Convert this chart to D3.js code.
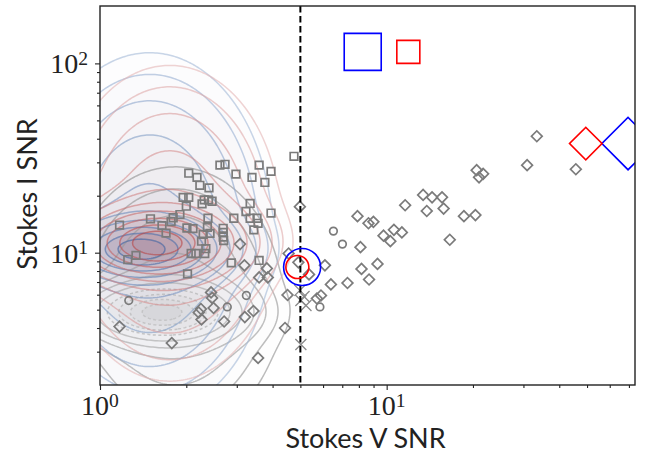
<!DOCTYPE html>
<html>
<head>
<meta charset="utf-8">
<script src="https://cdn.jsdelivr.net/npm/d3@7"></script>
<style>
  html, body { margin: 0; padding: 0; background: #fff; }
  svg { display: block; }
</style>
</head>
<body>
<svg id="chart" width="651" height="455"></svg>
<script>
// ---- Axis ranges and ticks -------------------------------------------------
const xDomain = [1, 73.5];
const yDomain = [2, 201];
const xMajor = [1, 10];
const xExponents = ["0", "1"];
const xMinor = [2, 3, 4, 5, 6, 7, 8, 9, 20, 30, 40, 50, 60, 70];
const yMajor = [10, 100];
const yExponents = ["1", "2"];
const yMinor = [3, 4, 5, 6, 7, 8, 9, 20, 30, 40, 50, 60, 70, 80, 90];
const xLabel = "Stokes V SNR";
const yLabel = "Stokes I SNR";
const vThreshold = 5;

// ---- Sources: [Stokes V SNR, Stokes I SNR] ---------------------------------
const squarePoints = [
  [4.75, 32.3], [2.62, 29.0], [2.73, 29.3], [3.59, 29.0], [2.04, 26.3], [2.18, 25.0],
  [2.98, 26.0], [3.39, 25.0], [3.95, 26.9], [3.76, 23.5], [2.23, 22.7], [2.40, 22.0],
  [1.95, 19.6], [2.04, 19.6], [2.27, 18.1], [2.31, 19.0], [2.39, 19.0], [2.46, 18.7],
  [2.00, 17.6], [3.34, 18.2], [3.23, 16.5], [3.95, 16.2], [1.90, 15.9], [1.80, 15.3],
  [1.77, 14.6], [1.50, 15.1], [1.645, 13.9], [1.70, 12.7], [1.17, 14.0], [2.01, 13.5],
  [2.11, 13.4], [2.38, 15.2], [2.93, 15.2], [3.34, 15.2], [3.53, 15.2], [3.44, 13.2],
  [2.69, 13.45], [2.69, 12.8], [2.69, 12.1], [2.70, 11.6], [2.37, 13.6], [2.29, 12.5],
  [2.42, 12.65], [2.26, 11.5], [2.34, 10.5], [2.08, 9.9], [2.16, 9.9], [2.02, 7.73],
  [2.87, 8.83], [3.59, 9.1], [1.335, 9.68], [1.25, 9.2], [3.56, 14.3], [2.32, 9.9]
];
const circlePoints = [
  [1.26, 5.59], [2.78, 5.17], [3.24, 5.94], [6.52, 13.0], [7.01, 11.1], [5.85, 5.17]
];
const diamondPoints = [
  [33.4, 41.2], [30.9, 29.0], [45.7, 27.6], [20.6, 27.3], [21.7, 26.1], [21.0, 25.0],
  [13.4, 20.2], [14.4, 19.6], [15.6, 19.6], [11.6, 17.8], [13.8, 16.6], [15.8, 17.1],
  [18.6, 15.6], [20.4, 15.8], [7.91, 15.6], [8.64, 14.3], [8.99, 14.55], [10.6, 13.2],
  [11.3, 12.8], [9.75, 12.3], [10.3, 11.5], [16.6, 11.7], [8.10, 10.7], [6.09, 8.57],
  [8.17, 8.21], [9.29, 8.72], [8.68, 7.22], [7.30, 6.92], [6.39, 6.80], [5.90, 5.94],
  [5.71, 5.73], [4.98, 17.5], [4.55, 9.9], [4.92, 8.89], [4.51, 5.98], [4.42, 4.00],
  [3.56, 2.78], [1.78, 3.33], [1.17, 4.07], [2.44, 6.17], [2.46, 5.77], [2.49, 5.10],
  [2.21, 4.83], [2.25, 5.04], [2.26, 4.44], [2.71, 4.33], [3.20, 4.57], [3.43, 4.92],
  [3.59, 7.40], [3.85, 7.40], [3.08, 11.1], [3.19, 8.57], [3.82, 8.26], [5.36, 7.68]
];
const crossPoints = [
  [4.98, 6.32], [5.15, 5.87], [5.02, 5.59], [5.23, 5.26], [5.02, 3.27]
];

// Highlighted objects (blue = large marker, red = small marker)
const blueSquare = [8.25, 115];
const redSquare = [11.9, 115];
const blueCircle = [5.07, 8.4];
const redCircle = [4.88, 8.4];
const blueDiamond = [69.5, 37.7];
const redDiamond = [49.5, 37.7];

// ---- Population density models (Gaussian kernels in log10 space) -----------
// centre in SNR units, widths in dex, w = relative weight; the first kernel is the core
const blueKernels = [
  { v: 1.38, i: 10.4, sv: 0.157, si: 0.095, w: 1.0 },
  { v: 1.49, i: 12.6, sv: 0.21, si: 0.47, w: 0.3 }
];
const redKernels = [
  { v: 1.556, i: 11.2, sv: 0.174, si: 0.116, w: 1.0 },
  { v: 1.75, i: 14.3, sv: 0.227, si: 0.49, w: 0.3 }
];
const greyKernels = [
  { v: 1.62, i: 4.83, sv: 0.157, si: 0.09, w: 1.0 },
  { v: 1.83, i: 5.6, sv: 0.227, si: 0.43, w: 0.3 }
];
// Stokes V SNR at which each contour level crosses the row through the core
const blueLevelCrossings = [1.686, 1.871, 2.077, 2.305, 2.559, 2.841, 3.154, 3.501, 3.855, 4.211];
const redLevelCrossings = [1.932, 2.145, 2.381, 2.643, 2.934, 3.257, 3.615, 3.981, 4.348, 4.712];
const greyLevelCrossings = [1.932, 2.128, 2.343, 2.58, 2.841, 3.129, 3.444, 3.794, 4.178, 4.6];

// ---- Layout ----------------------------------------------------------------
const plot = { left: 100, right: 635, top: 6, bottom: 385 };
const svg = d3.select("#chart");

const x = d3.scaleLog().domain(xDomain).range([plot.left, plot.right]);
const y = d3.scaleLog().domain(yDomain).range([plot.bottom, plot.top]);

svg.append("defs").append("clipPath").attr("id", "plot-clip")
  .append("rect")
  .attr("x", plot.left).attr("y", plot.top)
  .attr("width", plot.right - plot.left).attr("height", plot.bottom - plot.top);

const body = svg.append("g").attr("clip-path", "url(#plot-clip)");

// ---- Density contours ------------------------------------------------------
const step = 2, pad = 24;
const gx0 = plot.left - pad, gy0 = plot.top - pad;
const nx = Math.ceil((plot.right - plot.left + 2 * pad) / step) + 1;
const ny = Math.ceil((plot.bottom - plot.top + 2 * pad) / step) + 1;

function densityAt(kernels, lv, li) {
  let s = 0;
  for (const k of kernels) {
    const du = (lv - Math.log10(k.v)) / k.sv;
    const dv = (li - Math.log10(k.i)) / k.si;
    s += k.w * Math.exp(-0.5 * (du * du + dv * dv));
  }
  return s;
}

function densityGrid(kernels) {
  const values = new Float64Array(nx * ny);
  for (let j = 0; j < ny; j++) {
    const li = Math.log10(y.invert(gy0 + (j + 0.5) * step));
    for (let i = 0; i < nx; i++) {
      const lv = Math.log10(x.invert(gx0 + (i + 0.5) * step));
      values[j * nx + i] = densityAt(kernels, lv, li);
    }
  }
  return values;
}

const gridPath = d3.geoPath(d3.geoTransform({
  point(px, py) { this.stream.point(gx0 + px * step, gy0 + py * step); }
}));

const families = [
  { kernels: greyKernels, crossings: greyLevelCrossings, fill: "#7a7a7a", fillScale: 0.45,
    lineFrom: "#8e8e8e", lineTo: "#b8b8b8", lineOpacity: 0.6, innerDash: "3,2.5" },
  { kernels: blueKernels, crossings: blueLevelCrossings, fill: "#4565a8", fillScale: 1.0,
    lineFrom: "#a6bbd9", lineTo: "#4266a3", lineOpacity: 0.62, innerDash: null },
  { kernels: redKernels, crossings: redLevelCrossings, fill: "#b54a4a", fillScale: 0.85,
    lineFrom: "#e3b3b3", lineTo: "#b84444", lineOpacity: 0.58, innerDash: null }
];
// per-level fill opacity, outermost level first
const levelFillOpacity = [0.01, 0.012, 0.015, 0.02, 0.027, 0.036, 0.048, 0.064, 0.082, 0.1];

families.forEach(f => {
  const core = f.kernels[0];
  const li0 = Math.log10(core.i);
  f.levels = f.crossings.map(v => densityAt(f.kernels, Math.log10(v), li0)).sort((a, b) => a - b);
  f.contours = d3.contours().size([nx, ny]).thresholds(f.levels)(densityGrid(f.kernels));
});

families.forEach(f => {
  body.append("g").selectAll("path").data(f.contours).join("path")
    .attr("d", gridPath)
    .attr("fill", f.fill)
    .attr("fill-opacity", (d, i) => levelFillOpacity[i] * f.fillScale)
    .attr("stroke", "none");
});
families.forEach(f => {
  const nLev = f.levels.length;
  const col = d3.scaleLinear().domain([0, nLev - 1])
    .range([f.lineFrom, f.lineTo]).interpolate(d3.interpolateRgb);
  body.append("g").selectAll("path").data(f.contours).join("path")
    .attr("d", gridPath)
    .attr("fill", "none")
    .attr("stroke", (d, i) => col(i))
    .attr("stroke-opacity", f.lineOpacity)
    .attr("stroke-width", 1.5)
    .attr("stroke-dasharray", (d, i) => (f.innerDash && i >= nLev - 4) ? f.innerDash : null)
    .attr("stroke-linejoin", "round");
});

// ---- Markers ---------------------------------------------------------------
const grey = "#7b7b7b";
const greySize = 7.6;
const square = s => d3.symbol(d3.symbolSquare, s * s)();
const circle = s => d3.symbol(d3.symbolCircle, Math.PI * s * s / 4)();

body.append("g").selectAll("path").data(squarePoints).join("path")
  .attr("d", square(greySize))
  .attr("transform", d => `translate(${x(d[0])},${y(d[1])})`)
  .attr("fill", "none").attr("stroke", grey).attr("stroke-width", 1.7);

body.append("g").selectAll("path").data(diamondPoints).join("path")
  .attr("d", square(greySize))
  .attr("transform", d => `translate(${x(d[0])},${y(d[1])}) rotate(45)`)
  .attr("fill", "none").attr("stroke", grey).attr("stroke-width", 1.7);

body.append("g").selectAll("path").data(circlePoints).join("path")
  .attr("d", circle(greySize))
  .attr("transform", d => `translate(${x(d[0])},${y(d[1])})`)
  .attr("fill", "none").attr("stroke", grey).attr("stroke-width", 1.7);

body.append("g").selectAll("path").data(crossPoints).join("path")
  .attr("d", "M-5.5,-5.5L5.5,5.5M-5.5,5.5L5.5,-5.5")
  .attr("transform", d => `translate(${x(d[0])},${y(d[1])})`)
  .attr("fill", "none").attr("stroke", "#8a8a8a").attr("stroke-width", 1.3);

// threshold line at Stokes V SNR = 5
body.append("line")
  .attr("x1", x(vThreshold)).attr("x2", x(vThreshold))
  .attr("y1", plot.top).attr("y2", plot.bottom)
  .attr("stroke", "#000").attr("stroke-width", 2)
  .attr("stroke-dasharray", "6.5,3.5");

// highlighted objects
const bigSize = 37, smallSize = 23;
const highlights = [
  { p: blueSquare, shape: "square", size: bigSize, color: "#0000ff" },
  { p: redSquare, shape: "square", size: smallSize, color: "#ff0000" },
  { p: blueCircle, shape: "circle", size: bigSize, color: "#0000ff" },
  { p: redCircle, shape: "circle", size: smallSize, color: "#ff0000" },
  { p: blueDiamond, shape: "diamond", size: bigSize, color: "#0000ff" },
  { p: redDiamond, shape: "diamond", size: smallSize, color: "#ff0000" }
];
body.append("g").selectAll("path").data(highlights).join("path")
  .attr("d", d => d.shape === "circle" ? circle(d.size) : square(d.size))
  .attr("transform", d => `translate(${x(d.p[0])},${y(d.p[1])})` + (d.shape === "diamond" ? " rotate(45)" : ""))
  .attr("fill", "none").attr("stroke", d => d.color).attr("stroke-width", 1.6);

// ---- Axes ------------------------------------------------------------------
const axisColor = "#222";
const xAxisMajor = svg.append("g").attr("transform", `translate(0,${plot.bottom})`)
  .call(d3.axisBottom(x).tickValues(xMajor).tickSize(5).tickFormat(() => ""));
const xAxisMinor = svg.append("g").attr("transform", `translate(0,${plot.bottom})`)
  .call(d3.axisBottom(x).tickValues(xMinor).tickSize(3).tickFormat(() => ""));
const yAxisMajor = svg.append("g").attr("transform", `translate(${plot.left},0)`)
  .call(d3.axisLeft(y).tickValues(yMajor).tickSize(5).tickFormat(() => ""));
const yAxisMinor = svg.append("g").attr("transform", `translate(${plot.left},0)`)
  .call(d3.axisLeft(y).tickValues(yMinor).tickSize(3).tickFormat(() => ""));
[xAxisMajor, xAxisMinor, yAxisMajor, yAxisMinor].forEach(g => {
  g.select(".domain").remove();
  g.selectAll(".tick line").attr("stroke", axisColor).attr("stroke-width", 1.1);
});

svg.append("rect")
  .attr("x", plot.left).attr("y", plot.top)
  .attr("width", plot.right - plot.left).attr("height", plot.bottom - plot.top)
  .attr("fill", "none").attr("stroke", axisColor).attr("stroke-width", 1.4);

function powerLabel(sel, exponent) {
  sel.append("tspan").text("10");
  sel.append("tspan").attr("dy", "-0.42em").attr("font-size", "0.7em").text(exponent);
}

svg.append("g").selectAll("text").data(xMajor).join("text")
  .attr("x", d => x(d)).attr("y", 415)
  .attr("text-anchor", "middle")
  .attr("font-family", "'Liberation Serif', 'DejaVu Serif', serif")
  .attr("font-size", 28).attr("fill", "#222")
  .each(function (d, i) { powerLabel(d3.select(this), xExponents[i]); });

svg.append("g").selectAll("text").data(yMajor).join("text")
  .attr("x", 88).attr("y", d => y(d) + 10)
  .attr("text-anchor", "end")
  .attr("font-family", "'Liberation Serif', 'DejaVu Serif', serif")
  .attr("font-size", 28).attr("fill", "#222")
  .each(function (d, i) { powerLabel(d3.select(this), yExponents[i]); });

svg.append("text")
  .attr("x", (plot.left + plot.right) / 2 - 2).attr("y", 448)
  .attr("text-anchor", "middle")
  .attr("font-family", "Lato, 'Open Sans', sans-serif")
  .attr("font-size", 27).attr("fill", "#222")
  .text(xLabel);

svg.append("text")
  .attr("transform", `translate(37,194) rotate(-90)`)
  .attr("text-anchor", "middle")
  .attr("font-family", "Lato, 'Open Sans', sans-serif")
  .attr("font-size", 27).attr("fill", "#222")
  .text(yLabel);
</script>
</body>
</html>
